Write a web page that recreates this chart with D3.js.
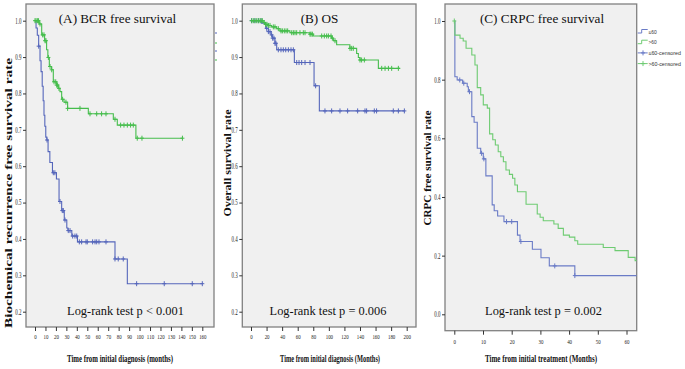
<!DOCTYPE html>
<html>
<head>
<meta charset="utf-8">
<script src="https://cdn.jsdelivr.net/npm/d3@7"></script>
<style>
  body { margin: 0; background: #fff; }
  svg { display: block; }
</style>
</head>
<body>
<div id="chart"></div>
<script>
// ---- data ----
// step curves: [time, survival] at each drop
const bcrLe60Steps = [[0, 1], [1, 0.98], [2.2, 0.96], [3.5, 0.93], [4.8, 0.89], [5.8, 0.86], [6.9, 0.82],
  [7.8, 0.78], [8.6, 0.74], [9.4, 0.71], [10.3, 0.68], [11.3, 0.672], [12.5, 0.64], [14.2, 0.61], [16.7, 0.582],
  [20.5, 0.565], [23, 0.503], [25.5, 0.478], [28, 0.452], [30.4, 0.43], [31.5, 0.423], [35.2, 0.408],
  [40.6, 0.392], [76.5, 0.345], [88.3, 0.277]];
const bcrLe60Censor = [3.5, 11.5, 17.5, 19, 23.9, 26.1, 27.1, 28.7, 31.8, 33.5, 36, 38.2, 39.9, 42.4, 44.6,
  48.8, 50, 55.1, 57.4, 59, 61.2, 67.9, 76.5, 79.6, 84.4, 97.2, 123.6, 150.4, 160];
const bcrGt60Steps = [[0, 1], [4.1, 0.991], [6.4, 0.961], [9.2, 0.945], [11.1, 0.92], [12.3, 0.899],
  [13.7, 0.874], [15.9, 0.865], [17.5, 0.832], [20.7, 0.823], [22.3, 0.814], [23.9, 0.805], [25.5, 0.784],
  [27.7, 0.776], [31.2, 0.759], [51, 0.744], [74.9, 0.729], [78.7, 0.713], [96.5, 0.677]];
const bcrGt60Censor = [0, 1, 2.3, 3.4, 4.8, 7.3, 8.6, 9.6, 10.5, 12.8, 14.4, 16, 18.2, 19.8, 20.7, 21.6,
  22.9, 26.4, 29.6, 31.2, 43, 52.6, 59, 63.7, 67.9, 76.5, 81.9, 85.1, 88.3, 91.4, 94, 97.8, 102.3, 141];

const osLe60Steps = [[0, 1], [13.7, 0.993], [18.9, 0.979], [22.3, 0.97], [25.7, 0.961], [27.4, 0.952],
  [30.8, 0.938], [33, 0.92], [55.7, 0.885], [81, 0.821], [87.8, 0.752]];
const osLe60Censor = [0.9, 5, 9.4, 12.9, 20.1, 22.3, 24.4, 26.5, 27.8, 29.5, 30.8, 32, 35.1, 38.5, 41.5,
  44.6, 48, 51.4, 54.4, 58.7, 61.7, 65.1, 69.4, 75.8, 83, 95, 103.6, 114.3, 124.1, 137, 146.4, 148.5,
  158.4, 161.3, 182.8, 189.3, 197];
const osGt60Steps = [[0, 1], [15.8, 0.995], [18, 0.99], [22.3, 0.987], [26.5, 0.983], [33, 0.978],
  [37.2, 0.972], [50, 0.967], [75.8, 0.963], [80, 0.958], [103.6, 0.952], [105.8, 0.945], [110, 0.934],
  [127, 0.924], [135.7, 0.91], [137.9, 0.899], [140, 0.892], [163.6, 0.869]];
const osGt60Censor = [0.85, 3, 5.1, 7.3, 9.4, 11.6, 12.9, 14.6, 17.1, 18.8, 20.5, 22.3, 24.4, 28.7, 30.8,
  35.1, 38.5, 40.3, 42.8, 45, 47.1, 52.3, 54.4, 56.5, 58.7, 62.9, 67.2, 69.4, 75.8, 77.1, 78.8, 90.8, 94.2,
  97.2, 99.4, 102.8, 104.5, 107.9, 127.2, 129.3, 131.4, 140, 142.1, 145.6, 167.9, 172.2, 176.5, 180.7, 189.3];

const crpcLe60Steps = [[0, 1], [0.2, 0.81], [1, 0.799], [2.9, 0.788], [4.5, 0.776], [4.9, 0.759],
  [6.1, 0.674], [6.9, 0.655], [8, 0.566], [9.2, 0.549], [10.1, 0.53], [11, 0.472], [13.2, 0.373],
  [13.9, 0.353], [15.1, 0.335], [17.3, 0.316], [22, 0.27], [22.9, 0.248], [27.2, 0.222], [30.2, 0.193],
  [33.1, 0.165], [42, 0.132]];
const crpcLe60Censor = [1.9, 3.3, 5.3, 9.5, 10.3, 18.2, 20, 23.2, 35, 42];
const crpcGt60Steps = [[0, 1], [0.2, 0.952], [2, 0.941], [3.1, 0.932], [4.1, 0.907], [6.1, 0.884],
  [7.2, 0.85], [8, 0.773], [9.2, 0.748], [10.1, 0.714], [11.5, 0.703], [12.3, 0.615], [13.4, 0.595],
  [14.3, 0.577], [15.3, 0.554], [16.2, 0.537], [17.1, 0.52], [18, 0.492], [19.2, 0.477], [20.3, 0.464],
  [21.1, 0.441], [22, 0.418], [25, 0.375], [28.9, 0.342], [29.9, 0.331], [31, 0.319], [34.7, 0.308],
  [36.2, 0.293], [38, 0.27], [40.1, 0.263], [42, 0.251], [43, 0.239], [51.9, 0.228], [56, 0.217],
  [60.6, 0.194], [63, 0.183]];
const crpcGt60Censor = [0];

// end of follow-up for each curve
const bcrEnd = [160, 141];
const osEnd = [197, 191.4];
const crpcEnd = [63.5, 63.5];

// tick labels
const bcrXTicks = d3.range(0, 161, 10);
const osXTicks = d3.range(0, 201, 20);
const crpcXTicks = d3.range(0, 61, 10);
const bcrYTicks = [0.2, 0.3, 0.4, 0.5, 0.6, 0.7, 0.8, 0.9, 1.0];
const crpcYTicks = [0, 0.2, 0.4, 0.6, 0.8, 1.0];

const legendLabels = ['\u226460', '>60', '\u226460-censored', '>60-censored'];

// ---- drawing ----
const blue = '#5566bb', green = '#45bd4c';
const blueC = '#6a7bc6', greenC = '#6ecb72';

const svg = d3.select('#chart').append('svg')
  .attr('width', 685).attr('height', 369);

const serif = 'Liberation Serif, Times New Roman, serif';

function survAt(steps, t) {
  let s = steps[0][1];
  steps.forEach(d => { if (d[0] <= t) s = d[1]; });
  return s;
}

// narrow label width, mimicking the condensed SPSS tick font
function tickWidth(str) {
  let w = 0;
  for (const c of str) w += c === '.' ? 1.3 : 2.45;
  return w;
}

function drawPanel(p) {
  const g = svg.append('g');
  g.append('rect')
    .attr('x', p.box[0]).attr('y', p.box[1])
    .attr('width', p.box[2] - p.box[0]).attr('height', p.box[3] - p.box[1])
    .attr('fill', '#f0f0f0').attr('stroke', '#808080').attr('stroke-width', 1.3);

  const x = d3.scaleLinear().domain(p.xDom).range(p.xRange);
  const y = d3.scaleLinear().domain(p.yDom).range(p.yRange);

  // y axis
  const ya = g.append('g')
    .attr('transform', `translate(${p.box[0]},0)`)
    .call(d3.axisLeft(y).tickValues(p.yTicks).tickFormat(d3.format('.1f')).tickSize(3).tickPadding(1.5));
  ya.select('.domain').remove();
  ya.selectAll('line').attr('stroke', '#333');
  ya.selectAll('text')
    .attr('font-family', serif).attr('font-size', 7.5).attr('fill', '#222')
    .attr('textLength', d => tickWidth(d3.format('.1f')(d)))
    .attr('lengthAdjust', 'spacingAndGlyphs');

  // x axis
  const xa = g.append('g')
    .attr('transform', `translate(0,${p.box[3]})`)
    .call(d3.axisBottom(x).tickValues(p.xTicks).tickSize(4).tickPadding(p.xPad));
  xa.select('.domain').remove();
  xa.selectAll('line').attr('stroke', '#333');
  xa.selectAll('text')
    .attr('font-family', serif).attr('font-size', 7).attr('fill', '#222')
    .attr('textLength', d => tickWidth(String(d)))
    .attr('lengthAdjust', 'spacingAndGlyphs');

  const line = d3.line().x(d => x(d[0])).y(d => y(d[1])).curve(d3.curveStepAfter);

  p.series.forEach(s => {
    const pts = s.steps.concat([[s.end, s.steps[s.steps.length - 1][1]]]);
    g.append('path')
      .attr('d', line(pts))
      .attr('fill', 'none').attr('stroke', s.color).attr('stroke-width', 1.1);
    g.append('g').selectAll('path')
      .data(s.censor)
      .enter()
      .append('path')
      .attr('d', t => {
        const cx = x(t), cy = y(survAt(s.steps, t));
        return `M${cx - 2},${cy}h4M${cx},${cy - 2.5}v5`;
      })
      .attr('stroke', s.color).attr('stroke-width', 1);
  });

  // panel title
  g.append('text')
    .attr('x', p.title[1]).attr('y', 22.5)
    .attr('text-anchor', 'middle')
    .attr('font-family', serif).attr('font-size', 13.2).attr('fill', '#111')
    .text(p.title[0]);

  // log-rank note
  g.append('text')
    .attr('x', p.test[1]).attr('y', 315)
    .attr('text-anchor', 'middle')
    .attr('font-family', serif).attr('font-size', 12.4).attr('fill', '#111')
    .text(p.test[0]);

  // axis titles
  g.append('text')
    .attr('x', p.xTitle[1]).attr('y', 361.5)
    .attr('text-anchor', 'middle')
    .attr('font-family', serif).attr('font-size', 9.5).attr('font-weight', 'bold').attr('fill', '#111')
    .attr('textLength', p.xTitle[2]).attr('lengthAdjust', 'spacingAndGlyphs')
    .text(p.xTitle[0]);
  g.append('text')
    .attr('transform', `translate(${p.yTitle[1]},${p.yTitle[2]}) rotate(-90)`)
    .attr('text-anchor', 'middle')
    .attr('dominant-baseline', 'central')
    .attr('font-family', serif).attr('font-size', 9.5).attr('font-weight', 'bold').attr('fill', '#111')
    .attr('textLength', p.yTitle[3]).attr('lengthAdjust', 'spacingAndGlyphs')
    .text(p.yTitle[0]);
}

drawPanel({
  box: [26, 4, 214, 327],
  xDom: [0, 160], xRange: [35, 202.3],
  yDom: [0.2, 1.0], yRange: [311.7, 20.7],
  xTicks: bcrXTicks, yTicks: bcrYTicks, xPad: 3,
  series: [
    { steps: bcrLe60Steps, censor: bcrLe60Censor, end: bcrEnd[0], color: blue },
    { steps: bcrGt60Steps, censor: bcrGt60Censor, end: bcrEnd[1], color: green },
  ],
  title: ['(A) BCR free survival', 117.5],
  test: ['Log-rank test p < 0.001', 125.5],
  xTitle: ['Time from initial diagnosis (months)', 120, 106],
  yTitle: ['Biochemical recurrence free survival rate', 8.5, 193, 270],
});

drawPanel({
  box: [242.3, 4, 416, 327],
  xDom: [0, 200], xRange: [251, 406.7],
  yDom: [0.2, 1.0], yRange: [311.7, 20.7],
  xTicks: osXTicks, yTicks: bcrYTicks, xPad: 3,
  series: [
    { steps: osLe60Steps, censor: osLe60Censor, end: osEnd[0], color: blue },
    { steps: osGt60Steps, censor: osGt60Censor, end: osEnd[1], color: green },
  ],
  title: ['(B) OS', 319.5],
  test: ['Log-rank test p = 0.006', 328],
  xTitle: ['Time from initial diagnosis (Months)', 330, 100],
  yTitle: ['Overall survival rate', 228, 163, 107],
});

drawPanel({
  box: [445, 4, 636.7, 330.7],
  xDom: [0, 60], xRange: [454.3, 626.5],
  yDom: [0, 1], yRange: [314.3, 21],
  xTicks: crpcXTicks, yTicks: crpcYTicks, xPad: 4,
  series: [
    { steps: crpcLe60Steps, censor: crpcLe60Censor, end: crpcEnd[0], color: blueC },
    { steps: crpcGt60Steps, censor: crpcGt60Censor, end: crpcEnd[1], color: greenC },
  ],
  title: ['(C) CRPC free survival', 542],
  test: ['Log-rank test p = 0.002', 543.5],
  xTitle: ['Time from initial treatment (Months)', 541, 112],
  yTitle: ['CRPC free survival rate', 428, 168, 115],
});

// legend (panel C)
const legend = svg.append('g').attr('class', 'legend');
const legColors = [blueC, greenC, blueC, greenC];
legend.selectAll('path')
  .data(legendLabels)
  .enter()
  .append('path')
  .attr('d', (d, i) => {
    const ly = 31.5 + i * 10.7;
    if (i < 2) return `M637.7,${ly + 1.5}h4v-3.5h6`;
    return `M637.7,${ly}h10M643,${ly - 2.5}v5M641,${ly}h4`;
  })
  .attr('fill', 'none')
  .attr('stroke', (d, i) => legColors[i])
  .attr('stroke-width', 1);
legend.selectAll('text')
  .data(legendLabels)
  .enter()
  .append('text')
  .attr('x', 648.5)
  .attr('y', (d, i) => 31.5 + i * 10.7)
  .attr('dominant-baseline', 'central')
  .attr('font-family', 'Liberation Sans, Arial, sans-serif')
  .attr('font-size', 5.6)
  .attr('fill', '#333')
  .attr('textLength', d => d.length * 2.7)
  .attr('lengthAdjust', 'spacingAndGlyphs')
  .text(d => d);

// cut-off legend remnants to the right of panel A
svg.append('g').selectAll('line')
  .data([33, 43, 51, 60])
  .enter()
  .append('line')
  .attr('x1', 215).attr('x2', 217)
  .attr('y1', d => d).attr('y2', d => d)
  .attr('stroke', (d, i) => (i % 2 === 0 ? blue : green))
  .attr('stroke-width', 1);
</script>
</body>
</html>
